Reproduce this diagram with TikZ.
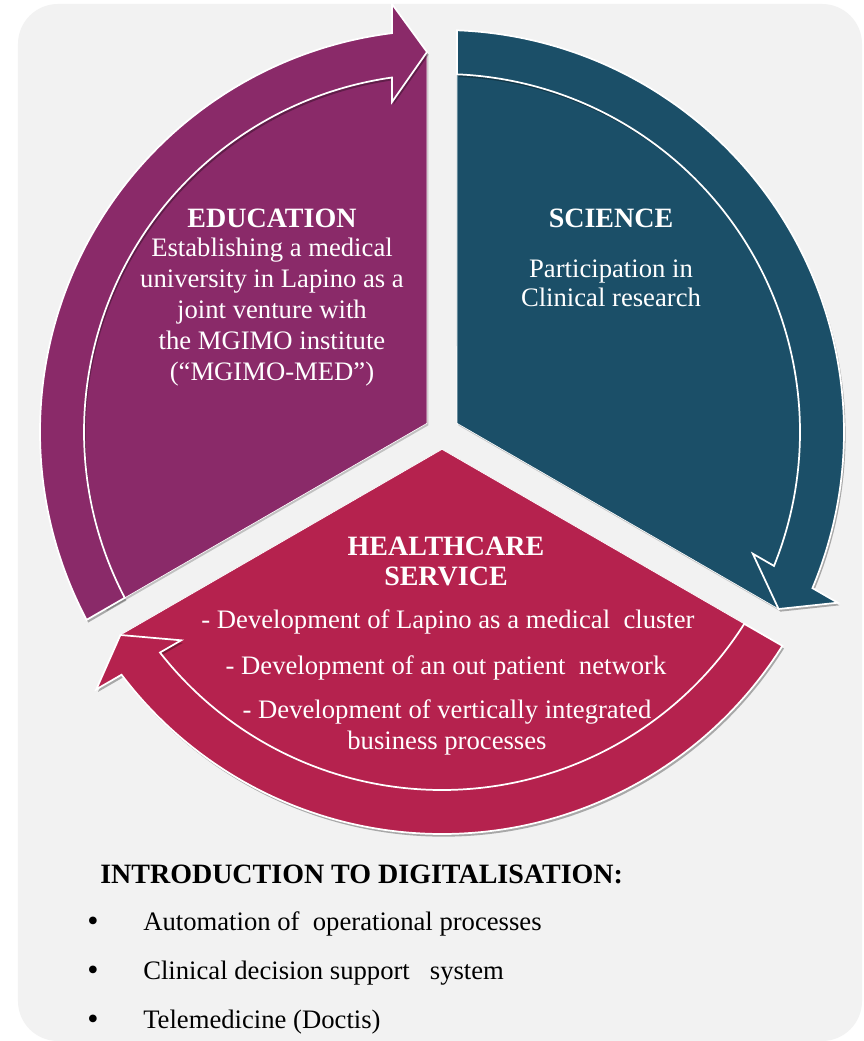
\documentclass[tikz,border=0pt]{standalone}
\usepackage{fontspec}
\setmainfont{Liberation Serif}
\usepackage{tikz}
\usetikzlibrary{calc,shadows}

\definecolor{eduPurple}{RGB}{138,42,105}
\definecolor{sciTeal}{RGB}{27,79,104}
\definecolor{careRed}{RGB}{181,34,78}
\definecolor{panelGray}{RGB}{242,242,242}

\begin{document}
\begin{tikzpicture}[x=0.75pt, y=0.75pt,
    wedge/.style={draw=white, line width=0.5pt,
        drop shadow={shadow xshift=1pt, shadow yshift=-1.5pt, opacity=0.2, fill=black}},
    band/.style={draw=white, line width=1.3pt,
        drop shadow={shadow xshift=1.2pt, shadow yshift=-2pt, opacity=0.3, fill=black}},
    head/.style={text=white, align=center, font=\fontsize{21}{22.5}\selectfont\bfseries},
    body/.style={text=white, align=center, font=\fontsize{20}{23.25}\selectfont},
    item/.style={anchor=west, inner sep=0pt, font=\fontsize{20}{24}\selectfont}]

\useasboundingbox (-442,-609) rectangle (421,432);
\fill[white] (-442,-609) rectangle (421,432);
\fill[panelGray, rounded corners=30pt] (-424,-609) rectangle (420,428);

% the three pie pieces
\foreach \clr/\ta/\tb in {eduPurple/210/90, sciTeal/90/-30, careRed/-30/-150}
    \fill[wedge, fill=\clr] ({(\ta+\tb)/2}:17.32) -- ({\tb+asin(15/380)}:380)
        arc[start angle={\tb+asin(15/380)}, end angle={\ta-asin(15/380)}, radius=380] -- cycle;

% the curved arrows round them
\foreach \clr/\ta/\tb in {eduPurple/210/90, sciTeal/90/-30, careRed/-30/-150}
    \fill[band, fill=\clr] ({\ta-asin(15/402)}:402)
        arc[start angle={\ta-asin(15/402)}, end angle={\tb+asin(50/402)}, radius=402]
        -- ($(\tb:428)+({\tb+90}:50)$)
        -- ($(\tb:380)+({\tb+90}:15)$)
        -- ($(\tb:330)+({\tb+90}:50)$)
        -- ({\tb+asin(50/358)}:358)
        arc[start angle={\tb+asin(50/358)}, end angle={\ta-asin(15/358)}, radius=358] -- cycle;

\node[head] (eduHead) at (-170,214) {EDUCATION};
\node[body] (eduText) at (-170,120) {Establishing a medical\\university in Lapino as a\\joint venture with\\the MGIMO institute\\(“MGIMO-MED”)};

\node[head] (sciHead) at (169,214) {SCIENCE};
\node[body, font=\fontsize{20}{21.75}\selectfont] (sciText) at (169,149) {Participation in\\Clinical research};

\node[head] (careHead) at (4,-129) {HEALTHCARE\\SERVICE};
\node[body] (careA) at (6,-190) {- Development of Lapino as a medical~ cluster};
\node[body] (careB) at (4,-236) {- Development of an out patient~ network};
\node[body] (careC) at (5,-295) {- Development of vertically integrated\\business processes};

\node[item, font=\fontsize{21}{24}\selectfont\bfseries] (digiHead) at (-342,-442) {INTRODUCTION TO DIGITALISATION:};
\foreach \y/\txt [count=\i] in {-492/Automation of~ operational processes, -541/Clinical decision support~~ system, -590/Telemedicine (Doctis)} {
    \node[font=\fontsize{24}{24}\selectfont] (dot\i) at (-349,\y) {•};
    \node[item] (digi\i) at (-299,\y) {\txt};
}

\end{tikzpicture}
\end{document}
